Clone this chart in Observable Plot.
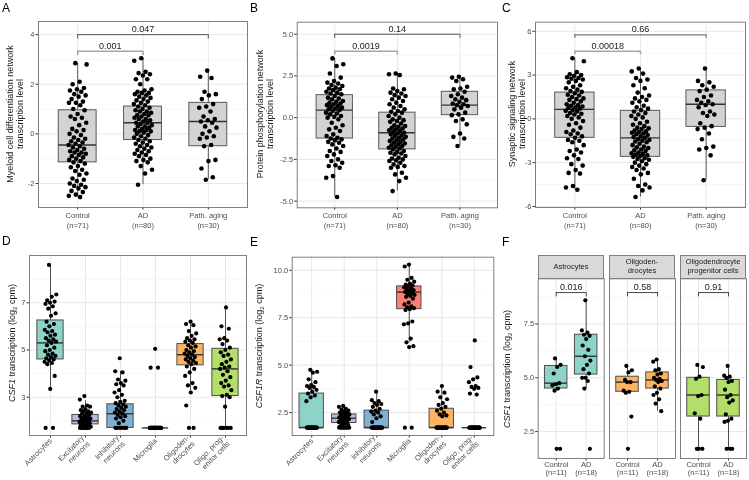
<!DOCTYPE html>
<html><head><meta charset="utf-8">
<script src="https://cdn.jsdelivr.net/npm/d3@7"></script>
<script src="https://cdn.jsdelivr.net/npm/@observablehq/plot@0.6"></script>
<style>
body{margin:0;background:#fff;}
#root{position:relative;width:749px;height:480px;overflow:hidden;background:#fff;font-family:'Liberation Sans',Arial,Helvetica,sans-serif;}
#root svg{position:absolute;overflow:visible;will-change:transform;}
.ytitle{position:absolute;transform:translate(-50%,-50%) rotate(-90deg);white-space:nowrap;text-align:center;font-size:9px;line-height:1.15;color:#1a1a1a;}
.letter{position:absolute;font-size:12px;color:#000;line-height:1;}
.strip{position:absolute;background:#d9d9d9;border:1px solid #7f7f7f;box-sizing:border-box;display:flex;align-items:center;justify-content:center;text-align:center;font-size:7.5px;line-height:1.15;color:#1a1a1a;will-change:transform;}
</style></head><body><div id="root"></div>
<script>
const FONT = "'Liberation Sans', Arial, Helvetica, sans-serif";

// ---------- Panel A: myeloid cell differentiation network ----------
const groupLabelsABC = ["Control\n(n=71)", "AD\n(n=80)", "Path. aging\n(n=30)"];
const aControl = [2.85,2.8,2.1,2.0,1.85,1.8,1.75,1.7,1.6,1.55,1.5,1.4,1.3,1.25,1.25,1.15,1.0,0.95,0.8,0.7,0.65,0.6,0.45,0.35,0.2,0.15,0.1,0.0,-0.05,-0.15,-0.2,-0.25,-0.3,-0.35,-0.4,-0.45,-0.5,-0.55,-0.6,-0.65,-0.7,-0.75,-0.75,-0.8,-0.85,-0.9,-0.95,-1.0,-1.05,-1.1,-1.15,-1.2,-1.3,-1.35,-1.45,-1.5,-1.6,-1.65,-1.8,-1.85,-1.9,-2.0,-2.05,-2.1,-2.15,-2.2,-2.3,-2.35,-2.45,-2.5,-2.55];
const aAD = [3.05,2.95,2.5,2.45,2.4,2.35,2.2,2.2,2.0,1.8,1.75,1.7,1.65,1.65,1.6,1.55,1.5,1.45,1.4,1.35,1.3,1.25,1.2,1.15,1.1,1.05,1.0,0.95,0.9,0.9,0.85,0.8,0.75,0.75,0.7,0.65,0.6,0.6,0.55,0.5,0.45,0.45,0.4,0.35,0.3,0.3,0.25,0.2,0.15,0.15,0.1,0.1,0.05,0.0,-0.05,-0.1,-0.15,-0.2,-0.25,-0.3,-0.35,-0.4,-0.45,-0.5,-0.55,-0.6,-0.65,-0.7,-0.75,-0.8,-0.85,-0.9,-1.0,-1.05,-1.1,-1.15,-1.3,-1.45,-1.6,-2.05];
const aPath = [2.55,2.3,2.25,1.7,1.6,1.55,1.4,1.2,1.1,1.05,0.9,0.7,0.6,0.55,0.5,0.45,0.3,0.25,0.1,0.0,-0.1,-0.15,-0.2,-0.45,-0.5,-1.05,-1.1,-1.4,-1.75,-1.85];
const aQ1 = [-1.15,-0.25,-0.5], aMed = [-0.45,0.45,0.5], aQ3 = [0.95,1.1,1.25], aLo = [-2.55,-2.05,-1.85], aHi = [2.85,3.05,2.55];
const aTicks = [-2,0,2,4], aMinor = [-1,1,3];
const aPvals = ["0.047","0.001"];

// ---------- Panel B: protein phosphorylation network ----------
const bControl = [3.55,3.2,3.1,2.65,2.4,2.2,2.1,2.05,1.95,1.9,1.8,1.75,1.7,1.65,1.55,1.5,1.45,1.4,1.3,1.2,1.15,1.1,1.0,0.95,0.9,0.85,0.8,0.75,0.7,0.65,0.6,0.55,0.5,0.45,0.4,0.3,0.25,0.2,0.1,0.05,0.0,-0.1,-0.3,-0.45,-0.6,-0.7,-0.8,-1.0,-1.1,-1.2,-1.25,-1.3,-1.35,-1.45,-1.5,-1.6,-1.7,-1.85,-2.0,-2.05,-2.2,-2.3,-2.5,-2.6,-2.7,-2.85,-2.9,-3.0,-3.5,-3.6,-4.75];
const bAD = [2.65,2.6,2.55,1.75,1.7,1.6,1.5,1.45,1.35,1.3,1.2,1.1,1.0,0.9,0.8,0.7,0.6,0.5,0.4,0.35,0.3,0.2,0.1,0.0,-0.1,-0.15,-0.2,-0.25,-0.35,-0.45,-0.5,-0.55,-0.6,-0.65,-0.7,-0.75,-0.8,-0.85,-0.9,-0.95,-1.0,-1.05,-1.1,-1.15,-1.2,-1.25,-1.3,-1.35,-1.4,-1.45,-1.5,-1.55,-1.6,-1.65,-1.7,-1.75,-1.8,-1.85,-1.9,-2.0,-2.05,-2.1,-2.15,-2.2,-2.3,-2.4,-2.45,-2.5,-2.55,-2.6,-2.7,-2.8,-2.9,-2.95,-3.0,-3.3,-3.4,-3.6,-3.8,-4.4];
const bPath = [2.45,2.4,2.3,2.2,1.85,1.75,1.7,1.55,1.4,1.3,1.2,1.1,1.05,0.95,0.85,0.8,0.75,0.7,0.6,0.5,0.3,0.2,0.15,-0.1,-0.2,-0.4,-0.95,-1.15,-1.25,-1.7];
const bQ1 = [-1.25,-1.9,0.15], bMed = [0.45,-0.9,0.75], bQ3 = [1.35,0.3,1.55], bLo = [-4.75,-4.4,-1.7], bHi = [3.55,2.65,2.45];
const bTicks = [-5,-2.5,0,2.5,5], bMinor = [-3.75,-1.25,1.25,3.75];
const bPvals = ["0.14","0.0019"];

// ---------- Panel C: synaptic signaling network ----------
const cControl = [4.15,3.95,3.2,3.05,3.0,2.95,2.85,2.8,2.75,2.7,2.6,2.5,2.3,2.2,2.1,2.0,1.9,1.85,1.75,1.65,1.6,1.5,1.4,1.35,1.3,1.2,1.1,1.0,0.95,0.9,0.85,0.8,0.75,0.7,0.6,0.55,0.5,0.4,0.35,0.3,0.2,0.1,0.0,-0.15,-0.3,-0.4,-0.6,-0.8,-0.9,-1.0,-1.05,-1.2,-1.3,-1.45,-1.5,-1.6,-1.8,-2.1,-2.2,-2.3,-2.5,-2.7,-2.75,-3.1,-3.2,-3.5,-3.7,-3.75,-4.6,-4.7,-4.85];
const cAD = [3.45,3.25,3.1,2.8,2.7,2.6,2.3,2.1,1.8,1.6,1.5,1.4,1.3,1.2,1.1,0.9,0.8,0.7,0.6,0.5,0.4,0.3,0.2,0.1,0.0,-0.2,-0.3,-0.4,-0.5,-0.6,-0.65,-0.7,-0.8,-0.85,-0.9,-0.95,-1.0,-1.05,-1.1,-1.2,-1.25,-1.3,-1.4,-1.45,-1.5,-1.55,-1.6,-1.7,-1.8,-1.9,-1.95,-2.0,-2.1,-2.15,-2.2,-2.3,-2.35,-2.4,-2.45,-2.5,-2.55,-2.6,-2.7,-2.75,-2.8,-2.9,-3.0,-3.1,-3.2,-3.3,-3.4,-3.5,-3.7,-3.8,-4.1,-4.5,-4.6,-4.7,-4.9,-5.35];
const cPath = [3.45,2.6,2.5,2.3,2.2,2.0,1.9,1.6,1.5,1.3,1.2,1.1,1.0,0.95,0.8,0.5,0.4,0.3,0.2,-0.3,-0.5,-0.6,-0.7,-1.0,-1.4,-1.9,-2.0,-2.1,-2.5,-4.2];
const cQ1 = [-1.3,-2.6,-0.55], cMed = [0.65,-1.3,1.0], cQ3 = [1.8,0.55,1.95], cLo = [-4.85,-5.35,-4.2], cHi = [4.15,3.45,3.45];
const cTicks = [-6,-3,0,3,6], cMinor = [-4.5,-1.5,1.5,4.5];
const cPvals = ["0.66","0.00018"];

// ---------- Panels D/E: cell types ----------
const cellLabels = ["Astrocytes","Excitatory\nneurons","Inhibitory\nneurons","Microglia","Oligoden-\ndrocytes","Oligo. prog-\nenitor cells"];
const cellColors = ["#8DD3C7","#BEBADA","#80B1D3","#FB8072","#FDB462","#B3DE69"];

const dAstro = [8.6,7.35,7.25,7.1,7.05,7.0,6.95,6.85,6.75,6.55,6.45,6.2,6.1,6.0,5.85,5.8,5.75,5.65,5.6,5.5,5.45,5.4,5.35,5.3,5.2,5.1,5.0,4.95,4.85,4.8,4.75,4.7,4.65,4.6,4.55,4.5,4.45,4.4,3.9,3.35,1.7,1.7];
const dExc = [3.05,2.9,2.65,2.6,2.6,2.5,2.45,2.4,2.4,2.35,2.3,2.3,2.25,2.2,2.2,2.15,2.1,2.1,2.05,2.05,2.0,2.0,1.95,1.95,1.9,1.9,1.85,1.8,1.8,1.75,1.75,1.7,1.7,1.7,1.7,1.7,1.7,1.7];
const dInh = [4.65,4.1,4.05,3.75,3.7,3.6,3.55,3.5,3.3,3.2,3.1,3.0,2.85,2.8,2.75,2.7,2.65,2.6,2.55,2.5,2.45,2.4,2.35,2.3,2.25,2.2,2.15,2.1,2.0,1.9,1.7,1.7,1.7,1.7,1.7,1.7];
const dMic = [5.05,4.25,4.25,1.7,1.7,1.7,1.7,1.7,1.7,1.7,1.7,1.7,1.7,1.7,1.7,1.7,1.7,1.7,1.7,1.7,1.7,1.7,1.7,1.7,1.7,1.7,1.7,1.7,1.7,1.7,1.7,1.7,1.7,1.7,1.7,1.7];
const dOli = [6.2,6.1,6.05,5.8,5.7,5.6,5.5,5.45,5.4,5.35,5.3,5.2,5.15,5.1,5.0,4.95,4.9,4.85,4.8,4.75,4.7,4.65,4.6,4.55,4.5,4.45,4.4,4.3,4.2,4.05,3.9,3.6,3.5,3.4,3.2,2.65,1.7,1.7];
const dOpc = [6.8,6.0,5.9,5.5,5.45,5.4,5.25,5.1,5.0,4.9,4.8,4.75,4.6,4.5,4.4,4.3,4.25,4.2,4.1,3.95,3.85,3.7,3.6,3.5,3.45,3.3,3.1,3.05,3.0,2.6,1.7,1.7,1.7,1.7,1.7,1.7];
const dQ1 = [4.6,1.85,1.7,1.7,4.35,3.05], dMed = [5.3,2.0,2.3,1.7,4.8,4.2], dQ3 = [6.25,2.25,2.7,1.7,5.25,5.05];
const dLo = [3.35,1.7,1.7,1.7,3.2,1.7], dHi = [8.6,2.85,4.1,1.7,6.2,6.8];
const dTicks = [3,5,7], dMinor = [2,4,6,8];

const eAstro = [4.75,4.65,4.6,4.25,4.1,3.95,3.9,3.85,3.8,3.7,3.6,3.5,3.4,3.3,3.1,1.7,1.7,1.7,1.7,1.7,1.7,1.7,1.7,1.7,1.7,1.7,1.7,1.7,1.7,1.7,1.7,1.7,1.7];
const eExc = [2.85,2.8,2.7,2.65,2.6,2.55,2.5,2.5,2.45,2.4,2.4,2.35,2.3,2.3,2.25,2.2,2.2,2.15,2.1,2.1,2.05,2.0,2.0,1.95,1.9,1.85,1.8,1.75,1.7,1.7,1.7,1.7,1.7,1.7,1.7,1.7];
const eInh = [3.6,3.15,3.1,3.0,2.95,2.9,2.8,2.7,2.6,2.55,2.5,2.4,2.3,2.2,2.0,1.7,1.7,1.7,1.7,1.7,1.7,1.7,1.7,1.7,1.7,1.7,1.7,1.7,1.7,1.7,1.7,1.7,1.7];
const eMic = [10.3,10.2,9.6,9.5,9.4,9.3,9.25,9.2,9.15,9.1,9.05,9.0,8.95,8.9,8.85,8.8,8.75,8.7,8.65,8.6,8.5,8.3,8.2,8.1,8.05,8.0,7.95,7.9,7.3,7.2,7.15,6.4,6.2,6.0,5.95,1.7,1.7];
const eOli = [3.9,3.6,3.55,3.3,3.2,3.0,2.9,2.8,2.7,2.6,2.5,2.4,2.35,2.3,1.7,1.7,1.7,1.7,1.7,1.7,1.7,1.7,1.7,1.7,1.7,1.7,1.7,1.7,1.7,1.7,1.7,1.7,1.7,1.7];
const eOpc = [6.3,4.9,4.35,4.25,4.1,3.9,3.85,3.8,3.75,3.5,3.45,1.7,1.7,1.7,1.7,1.7,1.7,1.7,1.7,1.7,1.7,1.7,1.7,1.7,1.7,1.7,1.7,1.7,1.7,1.7,1.7,1.7,1.7,1.7,1.7];
const eQ1 = [1.7,1.95,1.7,7.95,1.7,1.7], eMed = [1.7,2.2,1.7,8.85,1.7,1.7], eQ3 = [3.5,2.4,2.6,9.15,2.7,1.7];
const eLo = [1.7,1.7,1.7,6.2,1.7,1.7], eHi = [4.75,2.85,3.6,10.3,3.9,1.7];
const eTicks = [2.5,5,7.5,10], eMinor = [3.75,6.25,8.75];

// ---------- Panel F: CSF1 control vs AD by cell type ----------
const fStrips = ["Astrocytes","Oligoden-<br>drocytes","Oligodendrocyte<br>progenitor cells"];
const fLabels = ["Control\n(n=11)","AD\n(n=18)"];
const fColors = ["#8DD3C7","#FDB462","#B3DE69"];
const fAstroCtrl = [5.9,5.6,5.5,5.2,4.75,4.7,4.65,4.5,4.4,1.7,1.7];
const fAstroAD = [8.6,7.2,7.1,7.0,6.95,6.8,6.5,6.3,6.0,5.8,5.6,5.4,5.2,5.0,5.0,4.85,4.5,1.7];
const fOliCtrl = [5.55,5.35,5.25,4.9,4.8,4.8,4.4,4.35,4.3,3.2,1.7];
const fOliAD = [5.85,5.75,5.4,5.35,5.2,5.15,5.0,4.95,4.9,4.85,4.8,4.6,4.5,4.3,4.2,4.0,3.8,3.45];
const fOpcCtrl = [5.6,5.5,5.05,4.95,4.2,4.15,3.35,3.1,1.7,1.7,1.7];
const fOpcAD = [5.55,5.1,5.05,5.0,4.85,4.8,4.45,4.2,4.1,3.95,3.85,3.3,3.1,3.0,2.95,1.7,1.7,1.7];
const fQ1 = [[4.5,5.15],[4.35,4.5],[3.2,3.2]];
const fMed = [[4.75,6.0],[4.8,4.9],[4.2,4.2]];
const fQ3 = [[5.55,7.0],[5.05,5.25],[5.0,4.9]];
const fLo = [[4.4,4.5],[4.3,3.45],[1.7,1.7]];
const fHi = [[5.9,8.6],[5.55,5.85],[5.6,5.55]];
const fPvals = ["0.016","0.58","0.91"];
const fTicks = [2.5,5,7.5], fMinor = [3.75,6.25,8.75];

// ---------- helpers ----------
function jit(i, amp){ const f = (i*0.6180339887498949 + 0.37) % 1; return (f-0.5)*2*amp; }

function panel(o){
  const n = o.groups.length;
  const idx = d3.range(1, n+1);
  const bw = o.boxW;
  const boxes = idx.map((k,i)=>({k, x1:k-bw/2, x2:k+bw/2, q1:o.q1[i], med:o.med[i], q3:o.q3[i], lo:o.lo[i], hi:o.hi[i], fill:o.fills[i]}));
  const pts = o.groups.flatMap((vals,gi)=>vals.map((v,i)=>({x:gi+1+jit(i+gi*13, o.amp), y:v})));
  const brMarks = (o.brackets||[]).flatMap(b=>[
    Plot.ruleY([b],{y:"y",x1:"x1",x2:"x2",stroke:b.stroke,strokeWidth:b.sw}),
    Plot.ruleX([{x:b.x1,y1:b.y,y2:b.tip},{x:b.x2,y1:b.y,y2:b.tip}],{x:"x",y1:"y1",y2:"y2",stroke:b.stroke,strokeWidth:b.sw}),
    Plot.text([b],{x:d=>(d.x1+d.x2)/2,y:"y",text:"label",dy:-5.5,fontSize:9,fill:"#1a1a1a"})
  ]);
  const marks = [
    Plot.ruleY(o.yMinor,{stroke:"#f3f3f3",strokeWidth:0.7}),
    Plot.ruleY(o.yTicks,{stroke:"#e8e8e8",strokeWidth:1}),
    Plot.ruleX(idx,{stroke:"#e8e8e8",strokeWidth:1}),
    Plot.axisX({ticks:idx, tickFormat:k=>o.labels[k-1], tickSize:2.5, tickPadding:o.xPad ?? 1.5, label:null, fill:"#4d4d4d", stroke:"#333", tickRotate:o.rotate||0, lineHeight:o.lh ?? 1.2}),
    Plot.ruleX(boxes,{x:"k",y1:"lo",y2:"q1",stroke:o.stroke}),
    Plot.ruleX(boxes,{x:"k",y1:"q3",y2:"hi",stroke:o.stroke}),
    Plot.rect(boxes,{x1:"x1",x2:"x2",y1:"q1",y2:"q3",fill:"fill",stroke:o.stroke}),
    Plot.ruleY(boxes,{y:"med",x1:"x1",x2:"x2",stroke:o.medStroke,strokeWidth:1.4}),
    Plot.dot(pts,{x:"x",y:"y",r:o.r,fill:"#000",stroke:null}),
    ...brMarks,
    Plot.frame({stroke:"#7f7f7f"})
  ];
  const showY = o.showY !== false;
  if (showY) marks.push(Plot.axisY({ticks:o.yTicks, tickFormat:o.fmt, tickSize:2.5, tickPadding:1.5, label:null, fill:"#4d4d4d", stroke:"#333"}));
  const svg = Plot.plot({
    width:o.w, height:o.h, marginLeft:o.mL, marginRight:o.mR, marginTop:o.mT, marginBottom:o.mB,
    x:{type:"linear", domain:[0.4, n+0.6]},
    y:showY ? {domain:o.yDomain} : {domain:o.yDomain, axis:null},
    color:{type:"identity"},
    style:{fontFamily:FONT, fontSize:"7.5px", background:"transparent", overflow:"visible"},
    marks
  });
  svg.style.left = o.left+"px";
  svg.style.top = o.top+"px";
  document.getElementById("root").appendChild(svg);
}

function html(cls, left, top, content, extra){
  const d = document.createElement("div");
  d.className = cls;
  d.style.left = left+"px"; d.style.top = top+"px";
  if (extra) Object.assign(d.style, extra);
  d.innerHTML = content;
  document.getElementById("root").appendChild(d);
}

const grayFill = ["#d3d3d3","#d3d3d3","#d3d3d3"];
const fmtInt = d => String(d);
const fmt1 = d => d.toFixed(1);
const darkBr = "#555", lightBr = "#a6a6a6";

panel({groups:[aControl,aAD,aPath], labels:groupLabelsABC, q1:aQ1, med:aMed, q3:aQ3, lo:aLo, hi:aHi, fills:grayFill,
  yDomain:[-2.97,4.53], yTicks:aTicks, yMinor:aMinor, fmt:fmtInt, boxW:0.58, amp:0.14, r:2.3, stroke:"#5a5a5a", medStroke:"#333",
  w:250, h:240, mL:38, mR:3, mT:21, mB:33, left:0, top:0, lh:1.25,
  brackets:[{x1:1,x2:3,y:4.0,tip:3.82,label:aPvals[0],stroke:darkBr,sw:1},{x1:1,x2:2,y:3.33,tip:3.16,label:aPvals[1],stroke:lightBr,sw:1.6}]});

panel({groups:[bControl,bAD,bPath], labels:groupLabelsABC, q1:bQ1, med:bMed, q3:bQ3, lo:bLo, hi:bHi, fills:grayFill,
  yDomain:[-5.40,5.72], yTicks:bTicks, yMinor:bMinor, fmt:fmt1, boxW:0.58, amp:0.14, r:2.3, stroke:"#5a5a5a", medStroke:"#333",
  w:250, h:240, mL:46.7, mR:3, mT:21.7, mB:32.7, left:250, top:0, lh:1.25,
  brackets:[{x1:1,x2:3,y:5.0,tip:4.75,label:bPvals[0],stroke:darkBr,sw:1},{x1:1,x2:2,y:3.98,tip:3.76,label:bPvals[1],stroke:lightBr,sw:1.6}]});

panel({groups:[cControl,cAD,cPath], labels:groupLabelsABC, q1:cQ1, med:cMed, q3:cQ3, lo:cLo, hi:cHi, fills:grayFill,
  yDomain:[-6.07,6.62], yTicks:cTicks, yMinor:cMinor, fmt:fmtInt, boxW:0.6, amp:0.14, r:2.3, stroke:"#5a5a5a", medStroke:"#333",
  w:250, h:240, mL:36, mR:4, mT:21.7, mB:33, left:499, top:0, lh:1.25,
  brackets:[{x1:1,x2:3,y:5.75,tip:5.52,label:cPvals[0],stroke:darkBr,sw:1},{x1:1,x2:2,y:4.63,tip:4.4,label:cPvals[1],stroke:lightBr,sw:1.6}]});

panel({groups:[dAstro,dExc,dInh,dMic,dOli,dOpc], labels:cellLabels, q1:dQ1, med:dMed, q3:dQ3, lo:dLo, hi:dHi, fills:cellColors,
  yDomain:[1.38,9.0], yTicks:dTicks, yMinor:dMinor, fmt:fmtInt, boxW:0.75, amp:0.17, r:2.1, stroke:"#4d4d4d", medStroke:"#333", rotate:-45, lh:1.1,
  w:250, h:240, mL:29, mR:4, mT:15, mB:45, left:0, top:240});

panel({groups:[eAstro,eExc,eInh,eMic,eOli,eOpc], labels:cellLabels, q1:eQ1, med:eMed, q3:eQ3, lo:eLo, hi:eHi, fills:cellColors,
  yDomain:[1.29,10.69], yTicks:eTicks, yMinor:eMinor, fmt:fmt1, boxW:0.75, amp:0.17, r:2.1, stroke:"#4d4d4d", medStroke:"#333", rotate:-45, lh:1.1,
  w:250, h:240, mL:41.7, mR:6.7, mT:16.7, mB:45, left:250, top:240});

const fGroups = [[fAstroCtrl,fAstroAD],[fOliCtrl,fOliAD],[fOpcCtrl,fOpcAD]];
const fFrameLeft = [537.7, 608.7, 679.7], fFrameW = 66;
fGroups.forEach((g,fi)=>{
  const first = fi===0;
  const mL = first ? 38.7 : 5;
  panel({groups:g, labels:fLabels, q1:fQ1[fi], med:fMed[fi], q3:fQ3[fi], lo:fLo[fi], hi:fHi[fi], fills:[fColors[fi],fColors[fi]],
    yDomain:[1.25,9.6], yTicks:fTicks, yMinor:fMinor, fmt:fmt1, boxW:0.75, amp:0.15, r:2.1, stroke:"#4d4d4d", medStroke:"#333",
    showY:first, w:mL+fFrameW+1, h:240, mL, mR:1, mT:38.3, mB:22, left:fFrameLeft[fi]-mL, top:240, lh:1.05, xPad:0.5,
    brackets:[{x1:1,x2:2,y:8.96,tip:8.76,label:fPvals[fi],stroke:"#444",sw:1}]});
  html("strip", fFrameLeft[fi], 255, fStrips[fi], {width:fFrameW+"px", height:"24px"});
});

// axis titles
html("ytitle", 15, 114, "Myeloid cell differentiation network<br>transcription level");
html("ytitle", 265, 114, "Protein phosphorylation network<br>transcription level");
html("ytitle", 517, 114, "Synaptic signaling network<br>transcription level");
html("ytitle", 13, 343, "<i>CSF1</i> transcription (log<sub style='font-size:6px'>2</sub> cpm)");
html("ytitle", 260, 346, "<i>CSF1R</i> transcription (log<sub style='font-size:6px'>2</sub> cpm)");
html("ytitle", 508, 369, "<i>CSF1</i> transcription (log<sub style='font-size:6px'>2</sub> cpm)");

// panel letters
html("letter", 2, 2, "A");
html("letter", 250, 2, "B");
html("letter", 502, 2, "C");
html("letter", 2, 235, "D");
html("letter", 250, 236, "E");
html("letter", 502, 236, "F");
</script></body></html>
